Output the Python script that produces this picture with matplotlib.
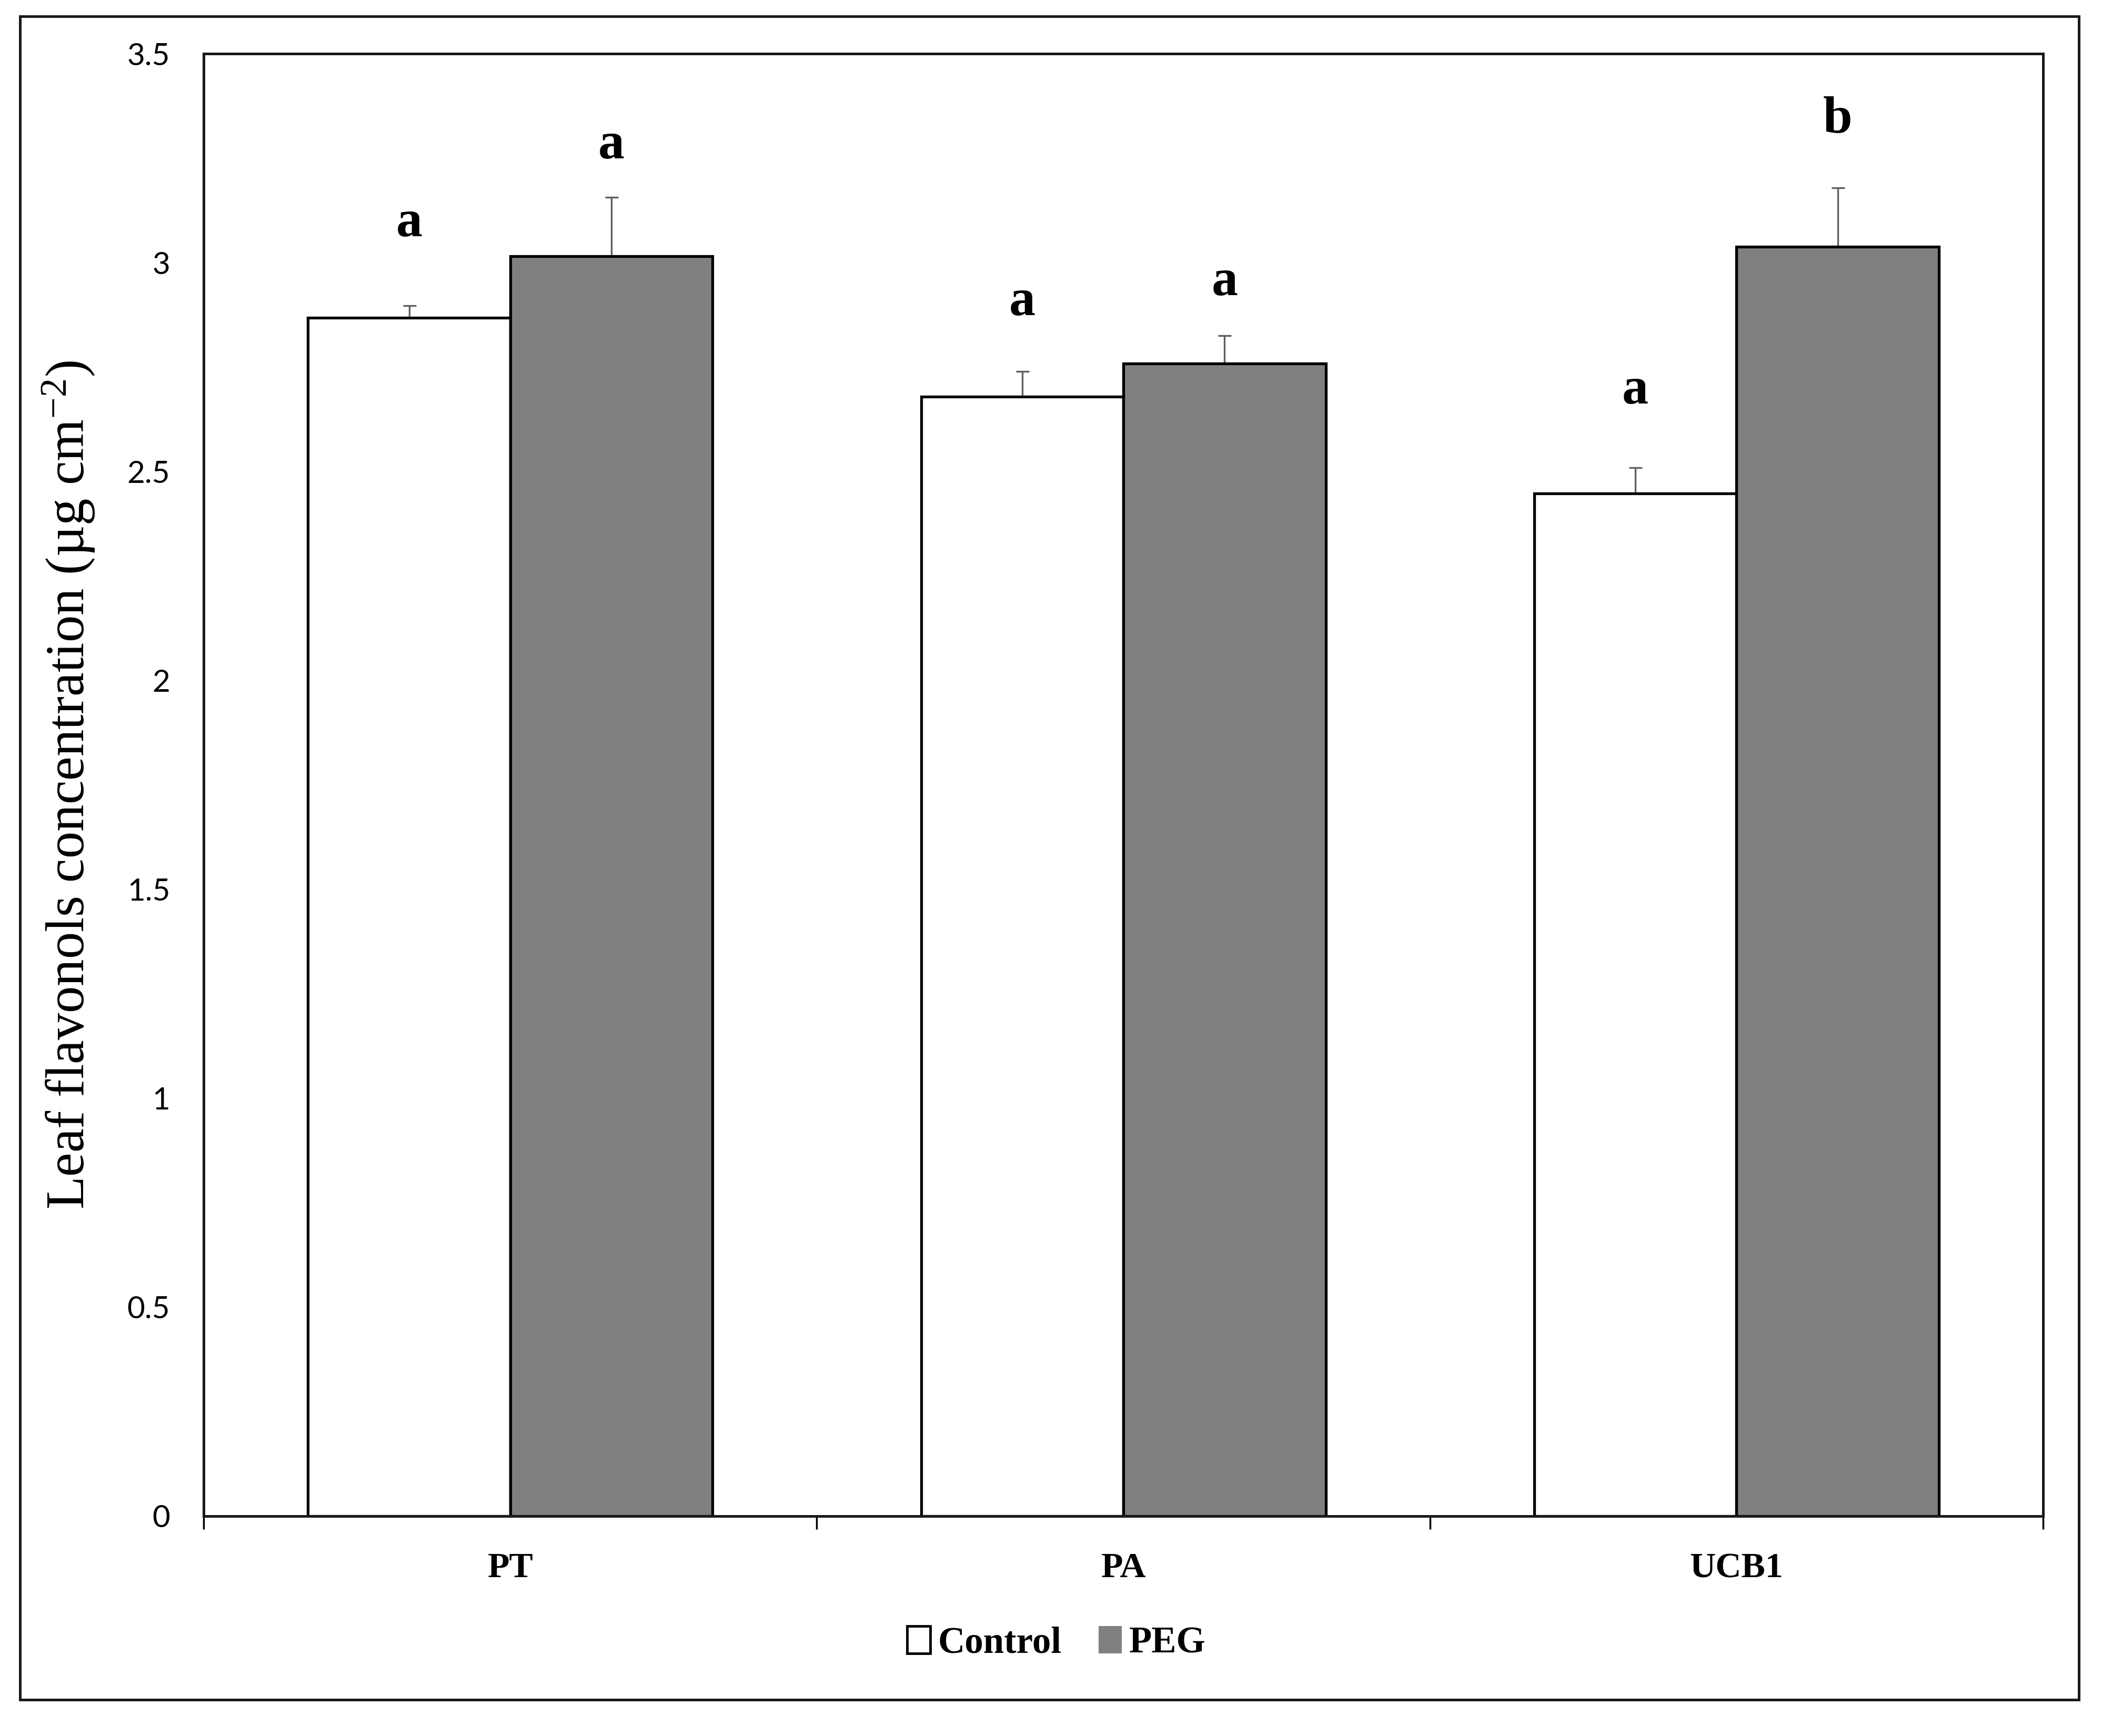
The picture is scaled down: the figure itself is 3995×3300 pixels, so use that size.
import matplotlib
matplotlib.use("Agg")
import matplotlib.pyplot as plt
from matplotlib.patches import Rectangle, Patch
import numpy as np

# ---- data ----
categories = ["PT", "PA", "UCB1"]
control = [2.868, 2.679, 2.448]
peg = [3.016, 2.759, 3.038]
control_err = [0.029, 0.061, 0.061]
peg_err = [0.141, 0.067, 0.141]
control_letters = ["a", "a", "a"]
peg_letters = ["a", "a", "b"]
control_letter_y = [3.064, 2.874, 2.663]
peg_letter_y = [3.250, 2.923, 3.311]
yticks = [0, 0.5, 1, 1.5, 2, 2.5, 3, 3.5]
ytick_labels = ["0", "0.5", "1", "1.5", "2", "2.5", "3", "3.5"]
series_names = ["Control", "PEG"]

serif = "Liberation Serif"
plt.rcParams["mathtext.fontset"] = "custom"
plt.rcParams["mathtext.rm"] = serif
plt.rcParams["mathtext.it"] = serif + ":italic"
plt.rcParams["mathtext.bf"] = serif + ":bold"

W, H, DPI = 3995, 3300, 100
fig = plt.figure(figsize=(W / DPI, H / DPI), dpi=DPI)
fig.patch.set_facecolor("white")

# outer frame
fig.add_artist(Rectangle((0.0095, 0.0209), 0.989 - 0.0095, 0.9906 - 0.0209,
                         transform=fig.transFigure, fill=False,
                         edgecolor="#1a1a1a", linewidth=3.6, zorder=0))

ax = fig.add_axes([0.0969, 0.1267, 0.972 - 0.0969, 0.969 - 0.1267])

x = np.arange(len(categories))
w = 0.33

ax.bar(x - w / 2, control, w, color="white", edgecolor="black", linewidth=3.8, zorder=2)
ax.bar(x + w / 2, peg, w, color="#808080", edgecolor="black", linewidth=3.8, zorder=2)

zeros = np.zeros(len(categories))
ax.errorbar(x - w / 2, control, yerr=[zeros, control_err], fmt="none",
            ecolor="#5f5f5f", elinewidth=2.4, capsize=9, capthick=2.4, zorder=1)
ax.errorbar(x + w / 2, peg, yerr=[zeros, peg_err], fmt="none",
            ecolor="#5f5f5f", elinewidth=2.4, capsize=9, capthick=2.4, zorder=1)

for i in range(len(categories)):
    ax.text(x[i] - w / 2, control_letter_y[i], control_letters[i], ha="center",
            va="baseline", fontsize=72, fontweight="bold", family=serif)
    ax.text(x[i] + w / 2, peg_letter_y[i], peg_letters[i], ha="center",
            va="baseline", fontsize=72, fontweight="bold", family=serif)

ax.set_xlim(-0.5, len(categories) - 0.5)
ax.set_ylim(0, 3.5)

ax.set_yticks(yticks)
ax.set_yticklabels(ytick_labels, family="Lato", fontsize=42)
ax.tick_params(axis="y", length=0, pad=46)

ax.set_xticks(x)
ax.set_xticklabels(categories, family=serif, fontweight="bold", fontsize=49)
ax.set_xticks(np.arange(len(categories) + 1) - 0.5, minor=True)
ax.tick_params(axis="x", which="major", length=0, pad=50)
ax.tick_params(axis="x", which="minor", length=18, width=2.5, direction="out")

for s in ax.spines.values():
    s.set_linewidth(3.6)
    s.set_color("#1a1a1a")

ax.set_ylabel("Leaf flavonols concentration (µg cm$^{-2}$)", family=serif, fontsize=74)
ax.yaxis.set_label_coords(-0.058, 0.5)

handles = [Patch(facecolor="white", edgecolor="black", linewidth=3.5),
           Patch(facecolor="#808080", edgecolor="#808080", linewidth=0)]
leg = fig.legend(handles, series_names, loc="center", bbox_to_anchor=(0.5026, 0.0533),
                 ncol=2, frameon=False, prop={"family": serif, "weight": "bold", "size": 51},
                 handlelength=0.62, handleheight=0.74, handletextpad=0.2, columnspacing=1.0)

fig.savefig("out.png", dpi=DPI, facecolor="white")
